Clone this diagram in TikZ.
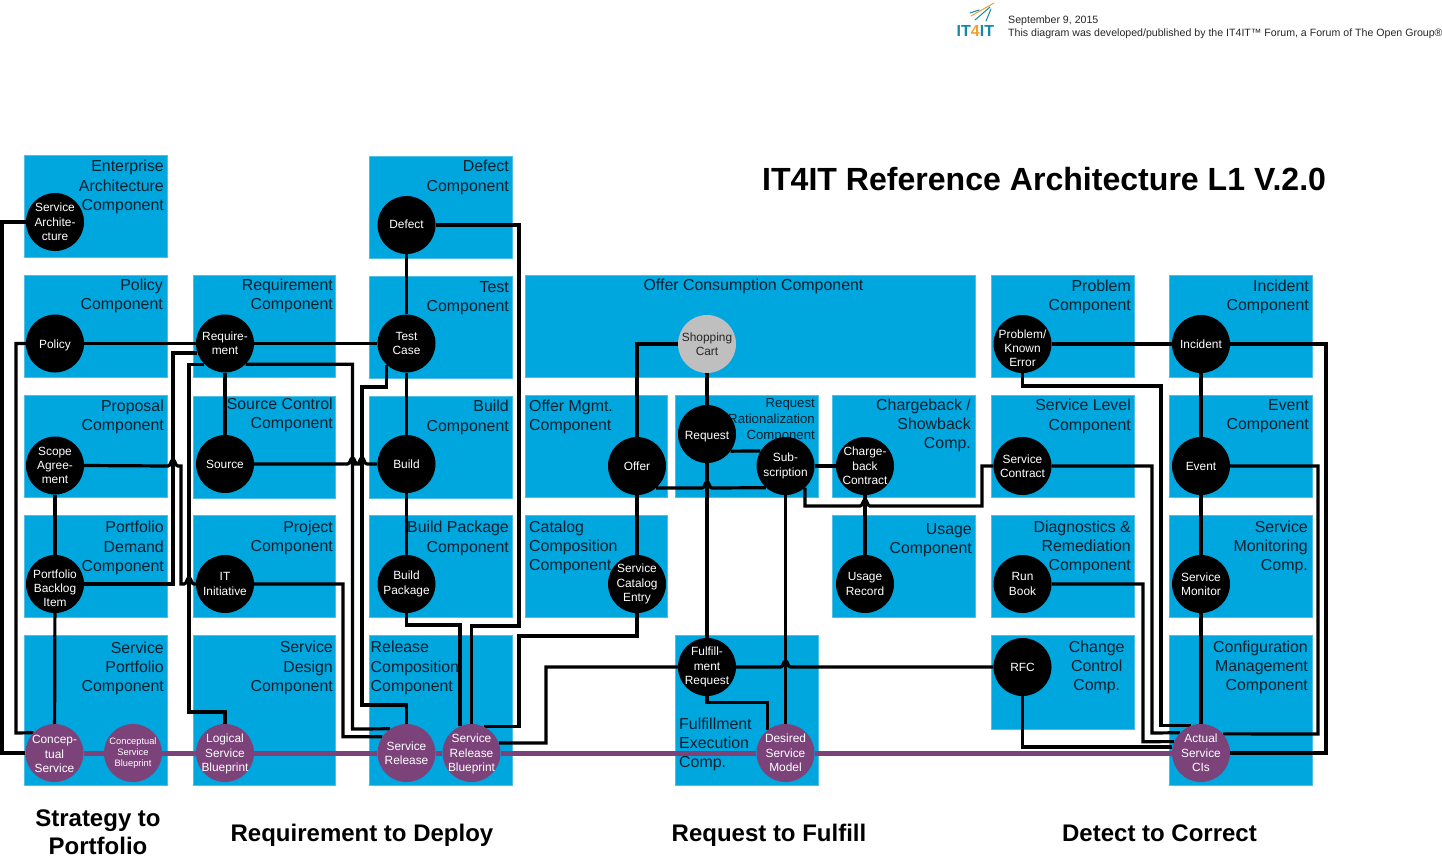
\documentclass[tikz,border=0pt]{standalone}
\usepackage{fontspec}
\setmainfont{Liberation Sans}
\definecolor{compblue}{HTML}{00A6DE}
\definecolor{compedge}{HTML}{4FBFE6}
\definecolor{labink}{HTML}{06202E}
\definecolor{purp}{HTML}{7B437A}
\definecolor{cartgray}{HTML}{BFBFBF}
\definecolor{logoteal}{HTML}{1587A8}
\definecolor{logoorange}{HTML}{F0A030}
\pgfdeclarelayer{boxes}
\pgfdeclarelayer{wires}
\pgfsetlayers{boxes,wires,main}
\tikzset{
  x=1pt,y=-1pt,
  compbox/.style={draw=compedge,line width=0.8pt,fill=compblue,rectangle,inner sep=0pt,minimum width=0pt},
  labtext/.style={inner sep=0pt,text=labink,font=\fontsize{15.9}{19.2}\selectfont},
  smalllab/.style={inner sep=0pt,text=labink,font=\fontsize{13.2}{16}\selectfont},
  artefact/.style={circle,inner sep=-10pt,minimum size=58pt,text=white,align=center,font=\fontsize{11.9}{14.3}\selectfont},
  blackart/.style={artefact,fill=black},
  purpart/.style={artefact,fill=purp},
  wire/.style={draw=black,line width=3.2pt,miter limit=10},
  flow/.style={draw=purp,line width=5pt},
  bigtitle/.style={inner sep=0pt,font=\fontsize{32.07}{36}\bfseries\selectfont},
  stream/.style={inner sep=0pt,align=center,font=\fontsize{24}{28.5}\bfseries\selectfont},
  small/.style={inner sep=0pt,anchor=base west,font=\fontsize{10.6}{13}\selectfont,text=black!85},
  ray/.style={line width=1pt,line cap=round}
}
% box: name, x1,y1,x2,y2
\newcommand{\compb}[5]{\begin{pgfonlayer}{boxes}\path[compbox] (#2,#3) rectangle (#4,#5);\end{pgfonlayer}}
% right-, left-, centre-aligned labels: name, x, first baseline, text
\newcommand{\labr}[4]{\begin{pgfonlayer}{boxes}\node[labtext,align=right,anchor=north east] (#1) at (#2,{#3-11.5}) {#4};\end{pgfonlayer}}
\newcommand{\labl}[4]{\begin{pgfonlayer}{boxes}\node[labtext,align=left,anchor=north west] (#1) at (#2,{#3-11.5}) {#4};\end{pgfonlayer}}
\newcommand{\labc}[4]{\begin{pgfonlayer}{boxes}\node[labtext,align=center,anchor=north] (#1) at (#2,{#3-11.5}) {#4};\end{pgfonlayer}}
% horizontal jump over a vertical wire at x, on level y
\newcommand{\hj}[2]{-- ({#1-5},#2) .. controls ({#1-2},#2) and ({#1-2.5},{#2-6}) .. (#1,{#2-6}) .. controls ({#1+2.5},{#2-6}) and ({#1+2},#2) .. ({#1+5},#2)}
\begin{document}
\begin{tikzpicture}
\useasboundingbox (0,0) rectangle (1442,862);
% component boxes
\compb{}{24.5}{155.5}{167}{257.5}\labr{lEA}{164}{171.7}{Enterprise\\Architecture\\Component}
\compb{}{24.5}{275.5}{167}{377}\labr{lPol}{163}{290.5}{Policy\\Component}
\compb{}{24.5}{395.5}{167}{497}\labr{lProp}{164}{411.2}{Proposal\\Component}
\compb{}{24.5}{515.5}{167}{617}\labr{lDem}{164}{532.7}{Portfolio\\Demand\\Component}
\compb{}{24.5}{635.5}{167}{785}\labr{lSP}{164}{653}{Service\\Portfolio\\Component}
\compb{}{193.5}{275.5}{335}{377}\labr{lReq}{333}{290.5}{Requirement\\Component}
\compb{}{193.5}{396.5}{335}{498}\labr{lSrc}{333}{409}{Source Control\\Component}
\compb{}{193.5}{515.5}{335}{617}\labr{lPrj}{333}{532}{Project\\Component}
\compb{}{193.5}{635.5}{335}{785}\labr{lSD}{333}{652.7}{Service\\Design\\Component}
\compb{}{369.5}{156}{512.5}{258}\labr{lDef}{509}{171.7}{Defect\\Component}
\compb{}{369.5}{276}{512.5}{378}\labr{lTest}{509}{292.7}{Test\\Component}
\compb{}{369.5}{396}{512.5}{498}\labr{lBld}{509}{411.7}{Build\\Component}
\compb{}{369.5}{515.5}{512.5}{617}\labr{lBP}{509}{532.7}{Build Package\\Component}
\compb{}{369.5}{635.5}{512.5}{785}\labl{lRel}{370.5}{652.7}{Release\\Composition\\Component}
\compb{}{525.5}{275.5}{975}{377}\labc{lOC}{753.5}{290.5}{Offer Consumption Component}
\compb{}{525.5}{395.5}{667}{497}\labl{lOM}{529}{411}{Offer Mgmt.\\Component}
\compb{}{525.5}{515.5}{667}{617}\labl{lCat}{529}{532}{Catalog\\Composition\\Component}
\compb{}{675.5}{395.5}{818}{497}
\begin{pgfonlayer}{boxes}\node[smalllab,align=right,anchor=north east] (lRR) at (815,398) {Request\\Rationalization\\Component};\end{pgfonlayer}
\compb{}{675.5}{635.5}{818}{785}\labl{lFE}{679}{729}{Fulfillment\\Execution\\Comp.}
\compb{}{832.5}{395.5}{975}{497}\labr{lCB}{971}{410}{Chargeback /\\Showback\\Comp.}
\compb{}{832.5}{515.5}{975}{617}\labr{lUs}{972}{535}{Usage\\Component}
\compb{}{991.5}{275.5}{1134}{377}\labr{lPrb}{1131}{291}{Problem\\Component}
\compb{}{991.5}{395.5}{1134}{497}\labr{lSL}{1131}{410.7}{Service Level\\Component}
\compb{}{991.5}{515.5}{1134}{617}\labr{lDR}{1131}{532}{Diagnostics \&\\Remediation\\Component}
\compb{}{991.5}{635.5}{1134}{729}\labc{lCC}{1096.7}{652}{Change\\Control\\Comp.}
\compb{}{1169.5}{275.5}{1312}{377}\labr{lInc}{1309}{291}{Incident\\Component}
\compb{}{1169.5}{395.5}{1312}{497}\labr{lEv}{1309}{410.7}{Event\\Component}
\compb{}{1169.5}{515.5}{1312}{617}\labr{lSM}{1308}{532}{Service\\Monitoring\\Comp.}
\compb{}{1169.5}{635.5}{1312}{785}\labr{lCM}{1308}{652}{Configuration\\Management\\Component}
% artefact circles
\node[blackart] (sa) at (55,222) {Service\\Archite-\\cture};
\node[blackart] (pol) at (55,343.5) {\rule{0pt}{11.5pt}Policy};
\node[blackart] (scope) at (55,465.5) {Scope\\Agree-\\ment};
\node[blackart] (pbi) at (55,584) {\rule{0pt}{17pt}Portfolio\\Backlog\\Item};
\node[purpart] (cs) at (54.5,753) {\rule{0pt}{10.5pt}Concep-\\tual\\Service};
\node[purpart,font=\fontsize{9.3}{11}\selectfont] (csb) at (133,753) {Conceptual\\Service\\Blueprint};
\node[blackart] (req) at (225,343.5) {Require-\\ment};
\node[blackart] (src) at (225,464) {Source};
\node[blackart] (iti) at (225,584) {IT\\Initiative};
\node[purpart] (lsb) at (225,753) {\rule{0pt}{10.5pt}Logical\\Service\\Blueprint};
\node[blackart] (def) at (406.5,225) {\rule[-2pt]{0pt}{2pt}Defect};
\node[blackart] (tc) at (406.5,343.5) {Test\\Case};
\node[blackart] (bld) at (406.5,464) {Build};
\node[blackart] (bp) at (406.5,584) {Build\\Package};
\node[purpart] (sr) at (406.5,753) {Service\\Release};
\node[purpart] (srb) at (471.5,753) {\rule{0pt}{10.5pt}Service\\Release\\Blueprint};
\node[artefact,fill=cartgray,text=black!85] (cart) at (707,344) {Shopping\\Cart};
\node[blackart] (off) at (637,466) {Offer};
\node[blackart] (sce) at (637,584) {Service\\Catalog\\Entry};
\node[blackart] (rq) at (707,434) {\rule{0pt}{12.5pt}Request};
\node[blackart] (sub) at (785.5,466) {Sub-\\scription};
\node[blackart] (cbc) at (865,466) {Charge-\\back\\Contract};
\node[blackart] (ur) at (865,584) {Usage\\Record};
\node[blackart] (ffr) at (707,667) {Fulfill-\\ment\\Request};
\node[purpart] (dsm) at (785.5,753) {Desired\\Service\\Model};
\node[blackart] (rfc) at (1022.5,667) {RFC};
\node[blackart] (pke) at (1022.5,344) {\rule{0pt}{17pt}Problem/\\Known\\Error};
\node[blackart] (sc) at (1022.5,466) {Service\\Contract};
\node[blackart] (rb) at (1022.5,584) {Run\\Book};
\node[blackart] (inc) at (1201,344) {Incident};
\node[blackart] (ev) at (1201,466) {Event};
\node[blackart] (smon) at (1201,584) {Service\\Monitor};
\node[purpart] (aci) at (1201,753) {Actual\\Service\\CIs};
% connectors
\begin{pgfonlayer}{wires}
\draw[flow] (cs) -- (csb);
\draw[flow] (csb) -- (lsb);
\draw[flow] (lsb) -- (sr);
\draw[flow] (sr) -- (srb);
\draw[flow] (srb) -- (dsm);
\draw[flow] (dsm) -- (aci);
\draw[wire] (sa.west) -| (2,753) -- (cs.west);
\draw[wire] (pol.west) -| (16,733) -- (cs.136);
\draw[wire] (pol) -- (req);
\draw[wire] (req) -- (tc);
\draw[wire] (scope) -- (pbi);
\draw[wire] (pbi) -- (cs);
\draw[wire] (req) -- (src);
\draw[wire] (def) -- (tc);
\draw[wire] (tc) -- (bld);
\draw[wire] (bld) -- (bp);
\draw[wire] (req.199) -| (173,584) -- (pbi.east);
\draw[wire] (req.225) -| (189,712) -| (lsb.north);
\draw[wire] (req.315) -| (352.5,729) -- (sr.124);
\draw[wire] (iti.east) -| (343,736.7) -- (sr.146);
\draw[wire] (tc.226) |- (362,387) |- (385,705) -| (sr.north);
\draw[wire] (scope.east) \hj{173}{466} -| (181,584) \hj{189}{584} -- (iti.west);
\draw[wire] (src.east) \hj{352.5}{464} \hj{362}{464} -- (bld.west);
\draw[wire] (def.east) -| (519,626) -| (srb.north);
\draw[wire] (bp.south) |- (440,625) -| (srb.113);
\draw[wire] (sce.south) |- (519,636) |- (srb.64);
\draw[wire] (ffr.west) -| (546,743) -- (srb.20);
\draw[wire] (cart.west) -| (off.north);
\draw[wire] (off) -- (sce);
\draw[wire] (cart) -- (rq);
\draw[wire] (rq) -- (ffr);
\draw[wire] (off.-49) \hj{707}{488} -- (sub.228);
\draw[wire] (rq.-36) -- (sub.149);
\draw[wire] (sub) -- (cbc);
\draw[wire] (sub) -- (dsm);
\draw[wire] (cbc) -- (ur);
\draw[wire] (sub.-48) |- (830,506) \hj{865}{506} -| (982,466) -- (sc.west);
\draw[wire] (ffr.east) \hj{785.5}{667} -- (rfc.west);
\draw[wire] (ffr.south) |- (740,702.7) -| (dsm.128);
\draw[wire] (rfc.south) |- (aci.168);
\draw[wire] (rb.east) -| (1143,741.7) -- (aci.157);
\draw[wire] (sc.east) -| (1152,733) -- (aci.136);
\draw[wire] (pke.south) |- (1161,386) |- (aci.111);
\draw[wire] (pke) -- (inc);
\draw[wire] (inc.east) -| (1326,753) -- (aci.east);
\draw[wire] (ev.east) -| (1318,734) -- (aci.41);
\draw[wire] (inc) -- (ev);
\draw[wire] (ev) -- (smon);
\draw[wire] (smon) -- (aci);
\end{pgfonlayer}
% title and stream names
\node[bigtitle,anchor=base west] (title) at (762,190) {IT4IT Reference Architecture L1 V.2.0};
\node[stream,anchor=north] (s2p) at (98,809.5) {Strategy to\\Portfolio};
\node[stream,anchor=base] (r2d) at (362,841) {Requirement to Deploy};
\node[stream,anchor=base] (r2f) at (769,841) {Request to Fulfill};
\node[stream,anchor=base] (d2c) at (1159.5,841) {Detect to Correct};
% header
\node[small] (date) at (1008,23.5) {September 9, 2015};
\node[small] (note) at (1008,36) {This diagram was developed/published by the IT4IT™ Forum, a Forum of The Open Group®};
\node[inner sep=0pt,anchor=base west,font=\fontsize{16}{16}\bfseries\selectfont,text=logoteal] (logo) at (956.5,36.5) {IT\textcolor{logoorange}{4}IT};
\draw[ray,logoorange] (971,16) -- (994,3);
\draw[ray,logoteal] (970,13) -- (979,10);
\draw[ray,logoteal] (975,20) -- (990,7);
\draw[ray,logoteal] (986,21) -- (991,9);
\end{tikzpicture}
\end{document}
